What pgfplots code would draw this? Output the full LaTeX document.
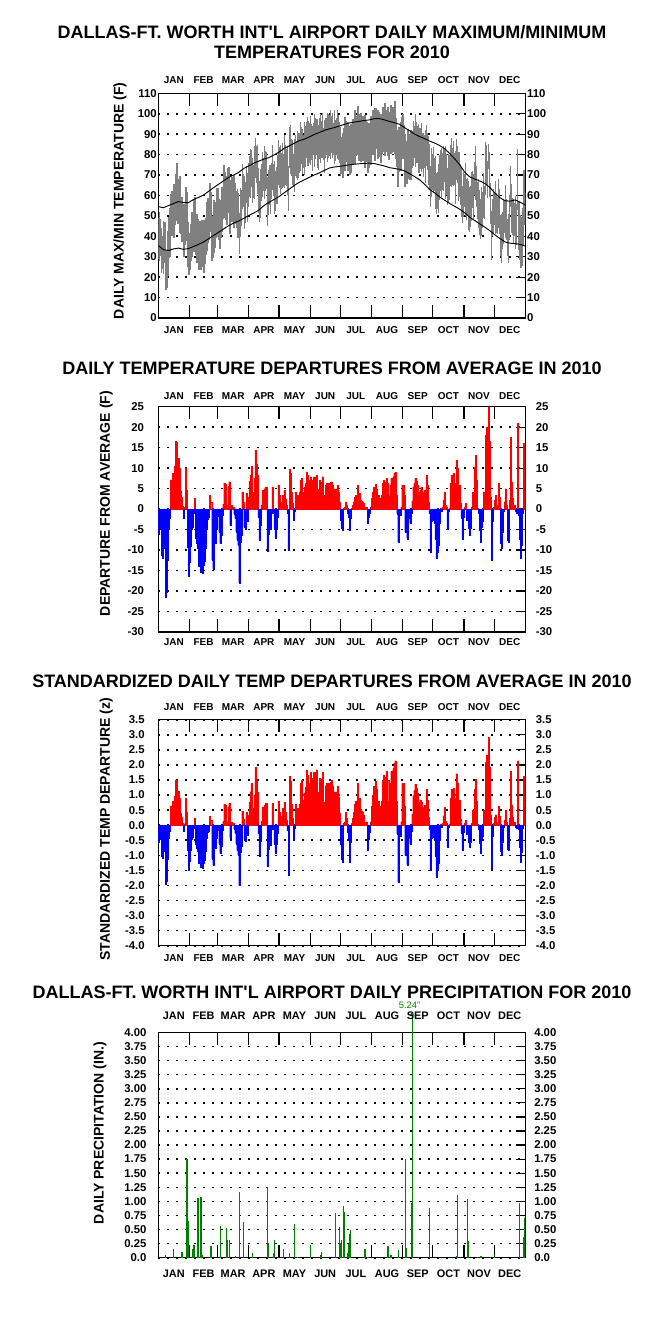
\documentclass[border=0pt]{standalone}
\usepackage{fontspec}
\setmainfont{Liberation Sans}
\usepackage{pgfplots}
\pgfplotsset{compat=1.18}
\usepackage{pgfplotstable}
\usetikzlibrary{arrows.meta}

\definecolor{bandgray}{RGB}{128,128,128}
\definecolor{pgreen}{RGB}{0,128,0}
\definecolor{dred}{RGB}{255,0,0}
\definecolor{dblue}{RGB}{0,0,255}

\newcommand\tfont{\fontsize{8.5}{8.5}\selectfont\bfseries}
\newcommand\mfont{\fontsize{7.5}{7.5}\selectfont\bfseries}
\newcommand\mfontb{\fontsize{8.2}{8.2}\selectfont\bfseries}
\newcommand\lfont{\fontsize{10.5}{10.5}\selectfont\bfseries}
\newcommand\titlefont{\fontsize{13.5}{13.5}\selectfont\bfseries}

% daily: actual max, actual min, departure (F), standardized departure (z)
\pgfplotstableread{
hi lo dep z
48.8 28.8 -6.2 -0.56
52.0 28.0 -4.8 -0.44
48.5 30.5 -5.0 -0.45
44.1 22.1 -11.2 -1.02
40.0 24.0 -12.0 -1.09
47.3 21.3 -9.5 -0.86
46.8 26.8 -7.0 -0.64
31.5 13.5 -21.4 -1.95
32.7 14.7 -20.2 -1.84
42.6 20.6 -12.4 -1.13
49.2 29.2 -4.8 -0.44
53.9 29.9 -2.3 -0.21
60.6 42.6 7.2 0.65
62.1 40.1 6.5 0.59
61.5 45.5 8.8 0.80
65.4 39.4 7.5 0.68
65.5 45.5 10.5 0.95
70.7 52.7 16.5 1.50
75.7 47.7 16.4 1.49
67.8 45.8 11.3 1.03
68.1 48.1 12.5 1.14
69.5 41.5 10.0 0.91
58.9 40.9 4.5 0.41
59.2 37.2 3.0 0.27
53.9 37.9 0.8 0.07
55.8 29.8 -2.2 -0.20
55.6 35.6 0.5 0.05
64.1 46.1 10.0 0.91
61.8 37.8 4.6 0.42
47.0 25.0 -9.2 -0.84
37.0 21.0 -16.3 -1.48
41.5 23.5 -13.0 -1.18
45.8 27.8 -9.0 -0.82
52.0 30.0 -5.0 -0.45
50.0 34.0 -4.3 -0.39
58.5 32.5 -1.0 -0.09
59.4 39.4 2.7 0.25
48.9 30.9 -7.0 -0.64
50.9 26.9 -8.2 -0.75
48.7 26.7 -9.6 -0.87
43.7 23.7 -13.8 -1.25
47.6 23.6 -12.2 -1.11
41.6 23.6 -15.4 -1.40
48.0 26.0 -11.2 -1.02
40.8 24.8 -15.7 -1.43
48.0 22.0 -13.7 -1.25
46.2 26.2 -12.8 -1.16
48.8 30.8 -9.6 -0.87
56.9 32.9 -4.8 -0.44
58.7 36.7 -2.4 -0.22
58.4 38.4 -2.0 -0.18
66.1 42.1 3.4 0.31
61.9 43.9 1.8 0.16
50.0 28.0 -12.4 -1.13
45.2 29.2 -14.6 -1.33
57.9 31.9 -7.2 -0.65
54.2 34.2 -8.2 -0.75
57.0 39.0 -4.8 -0.44
63.5 39.5 -1.6 -0.15
63.6 41.6 -0.8 -0.07
58.3 38.3 -5.5 -0.61
57.7 33.7 -8.4 -0.93
57.1 39.1 -6.3 -0.70
64.3 42.3 -1.5 -0.17
64.3 48.3 1.2 0.13
74.8 48.8 6.4 0.71
71.7 51.7 6.0 0.67
66.1 48.1 1.0 0.11
69.4 45.4 1.0 0.11
73.2 51.2 5.5 0.61
73.7 53.7 6.7 0.74
65.3 41.3 -4.0 -0.44
67.5 49.5 1.0 0.11
69.1 47.1 0.3 0.03
66.6 50.6 0.6 0.07
70.1 44.1 -1.2 -0.13
66.2 46.2 -2.3 -0.26
62.2 44.2 -5.5 -0.61
63.3 39.3 -7.6 -0.84
61.4 39.4 -8.8 -0.98
51.4 31.4 -18.0 -2.00
63.7 39.7 -8.0 -0.89
62.8 44.8 -6.3 -0.70
75.6 53.6 4.2 0.47
70.5 54.5 1.8 0.20
69.7 43.7 -4.3 -0.48
66.5 46.5 -4.8 -0.53
74.4 56.4 3.8 0.42
70.8 46.8 -3.0 -0.33
76.1 54.1 3.0 0.33
79.2 59.2 6.8 0.76
82.9 58.9 8.3 1.11
82.3 64.3 10.4 1.39
78.3 56.3 4.2 0.56
74.8 58.8 3.4 0.45
84.1 58.1 7.5 1.00
88.3 68.3 14.4 1.92
84.1 66.1 11.0 1.47
84.6 60.6 8.3 1.11
73.6 51.6 -2.0 -0.27
67.2 47.2 -7.6 -1.01
73.1 49.1 -4.0 -0.53
75.5 57.5 1.0 0.13
81.4 59.4 4.6 0.61
78.3 62.3 4.2 0.56
84.4 58.4 5.0 0.67
82.0 62.0 5.4 0.72
81.3 63.3 5.4 0.72
68.9 44.9 -10.2 -1.36
72.3 50.3 -6.0 -0.80
75.1 55.1 -2.5 -0.33
74.8 50.8 -5.0 -0.67
76.1 58.1 -1.0 -0.13
84.8 62.8 5.4 0.72
75.6 59.6 -1.0 -0.13
77.1 51.1 -4.8 -0.64
72.2 52.2 -7.0 -0.93
73.7 55.7 -4.8 -0.64
79.8 55.8 -2.0 -0.27
86.9 64.9 5.9 0.79
83.7 63.7 3.4 0.45
84.5 60.5 1.8 0.30
81.0 63.0 1.0 0.17
85.8 63.8 3.4 0.57
80.1 64.1 0.3 0.05
89.7 63.7 4.6 0.77
84.9 64.9 2.5 0.42
82.7 64.7 1.0 0.17
84.0 60.0 -1.0 -0.17
74.3 52.3 -10.0 -1.67
93.4 73.4 9.8 1.63
94.6 70.6 8.7 1.45
87.4 69.4 4.2 0.70
86.9 64.9 1.4 0.23
80.2 64.2 -2.7 -0.45
87.7 61.7 -0.5 -0.08
89.7 69.7 4.2 0.70
86.6 68.6 1.8 0.30
91.4 67.4 3.4 0.57
90.7 68.7 3.4 0.57
90.8 70.8 4.2 0.70
95.8 71.8 7.0 1.40
93.5 75.5 7.5 1.50
92.4 70.4 4.2 0.84
89.6 73.6 4.2 0.84
96.0 70.0 5.4 1.08
94.1 74.1 6.3 1.26
96.1 78.1 9.1 1.82
98.6 74.6 8.3 1.66
96.5 74.5 7.0 1.40
95.7 75.7 7.0 1.40
98.9 74.9 7.9 1.76
95.2 77.2 7.0 1.56
93.8 71.8 3.4 0.76
95.6 79.6 7.9 1.76
99.9 73.9 7.0 1.56
98.0 78.0 7.9 1.76
97.6 79.6 8.3 1.84
97.5 73.5 5.0 1.11
94.3 72.3 2.6 0.58
97.9 77.9 7.0 1.56
99.8 75.8 6.7 1.49
96.3 78.3 5.9 1.31
100.5 78.5 7.9 1.76
93.2 77.2 3.4 0.76
96.8 70.8 1.8 0.40
98.1 78.1 5.9 1.31
97.7 79.7 6.3 1.40
100.5 76.5 5.9 1.31
100.1 78.1 6.3 1.40
99.3 79.3 6.3 1.40
101.6 77.6 6.5 1.44
98.9 80.9 6.7 1.49
100.3 78.3 5.9 1.31
95.7 79.7 4.2 0.93
101.6 75.6 5.0 1.11
97.1 77.1 3.4 0.76
97.8 79.8 5.0 1.11
101.8 77.8 5.9 1.31
99.2 77.2 4.2 0.93
95.9 75.9 1.8 0.40
93.5 69.5 -2.7 -0.64
88.7 70.7 -4.7 -1.12
90.4 68.4 -5.1 -1.21
92.9 76.9 0.3 0.07
98.2 72.2 0.5 0.12
96.6 76.6 1.8 0.43
94.9 76.9 1.0 0.24
96.0 72.0 -1.0 -0.24
94.2 72.2 -2.0 -0.48
90.2 70.2 -5.1 -1.21
95.0 71.0 -2.3 -0.55
94.7 76.7 0.3 0.07
97.5 75.5 1.0 0.24
95.4 79.4 1.8 0.43
101.6 75.6 3.0 0.71
99.1 79.1 3.4 0.81
98.1 80.1 3.4 0.81
103.7 79.7 5.9 1.40
98.7 76.7 1.8 0.43
99.7 79.7 3.8 0.90
100.2 76.2 2.2 0.52
97.0 79.0 2.0 0.48
98.9 76.9 1.8 0.43
95.6 79.6 1.4 0.33
99.6 73.6 0.4 0.10
96.5 76.5 0.2 0.05
95.8 77.8 0.5 0.12
94.8 70.8 -3.5 -0.83
95.5 73.5 -1.9 -0.45
95.4 75.4 -1.0 -0.24
99.0 75.0 0.5 0.12
98.1 80.1 2.6 0.62
101.7 79.7 4.2 1.00
100.0 84.0 5.4 1.29
103.0 77.0 3.4 0.81
102.7 82.7 6.1 1.45
100.5 82.5 5.0 1.19
101.8 77.8 3.4 0.81
100.8 78.8 3.4 0.81
98.9 78.9 2.6 0.62
100.0 76.0 1.8 0.43
98.5 80.5 3.4 0.81
103.3 81.3 6.3 1.50
100.8 84.8 7.0 1.67
105.4 79.4 6.7 1.60
101.5 81.5 5.9 1.40
101.9 83.9 7.5 1.79
103.5 79.5 6.3 1.50
99.5 77.5 3.4 0.81
100.8 80.8 5.9 1.40
104.3 80.3 7.5 1.79
98.7 80.7 5.0 1.19
103.5 81.5 7.9 1.88
101.2 85.2 8.7 2.07
106.4 80.4 9.0 2.14
97.7 77.7 3.4 0.81
92.0 74.0 -1.2 -0.29
88.1 64.1 -8.0 -1.90
93.7 71.7 -1.2 -0.29
92.3 72.3 -1.5 -0.36
96.1 72.1 0.5 0.12
98.2 80.2 5.9 1.40
100.0 78.0 5.9 1.40
94.3 78.3 3.4 0.62
90.1 64.1 -5.5 -1.00
86.8 66.8 -5.5 -1.00
83.8 65.8 -7.2 -1.31
92.7 68.7 -1.0 -0.18
90.1 68.1 -2.3 -0.42
87.6 67.6 -3.5 -0.64
91.8 67.8 -1.0 -0.18
91.5 73.5 2.0 0.36
96.6 74.6 5.4 0.98
94.2 78.2 6.3 1.15
100.1 74.1 7.5 1.36
96.1 76.1 6.8 1.24
93.9 75.9 5.9 1.07
95.0 71.0 4.2 0.76
92.9 70.9 3.4 0.62
92.8 72.8 4.6 0.84
95.3 71.3 5.4 0.77
90.8 72.8 4.2 0.60
90.8 68.8 2.6 0.37
89.5 73.5 4.6 0.66
92.2 66.2 2.6 0.37
94.5 74.5 8.3 1.19
90.7 72.7 5.9 0.84
89.3 65.3 1.8 0.26
85.1 63.1 -1.0 -0.14
74.3 54.3 -10.4 -1.49
83.4 59.4 -3.0 -0.43
80.5 62.5 -2.7 -0.39
83.9 61.9 -1.0 -0.14
78.2 62.2 -3.5 -0.50
79.2 53.2 -7.2 -1.03
71.1 51.1 -12.0 -1.71
71.4 53.4 -10.4 -1.49
75.6 51.6 -8.8 -1.26
79.6 57.6 -3.5 -0.50
82.1 62.1 0.3 0.04
83.0 59.0 -0.5 -0.07
80.7 62.7 0.5 0.07
84.0 62.0 2.2 0.31
82.7 66.7 4.2 0.60
84.2 58.2 1.0 0.14
80.3 60.3 0.5 0.07
73.4 55.4 -5.0 -0.71
80.5 56.5 -0.5 -0.07
79.9 57.9 0.3 0.04
84.5 64.5 6.3 0.90
88.1 64.1 8.3 1.19
83.1 65.1 6.7 0.96
86.7 64.7 8.7 1.24
80.9 64.9 6.3 0.90
81.8 55.8 2.6 0.37
87.8 67.8 12.0 1.71
84.2 66.2 9.9 1.41
81.5 57.5 4.6 0.66
81.3 59.3 5.9 0.84
75.4 55.4 1.4 0.20
73.2 49.2 -2.3 -0.27
64.7 46.7 -7.2 -0.84
71.4 49.4 -2.0 -0.23
70.3 54.3 0.5 0.06
75.7 49.7 1.4 0.16
68.2 48.2 -2.7 -0.31
68.4 50.4 -1.0 -0.12
67.3 43.3 -4.7 -0.55
64.2 42.2 -6.3 -0.73
64.4 44.4 -4.7 -0.55
71.3 47.3 0.5 0.06
71.8 53.8 4.2 0.49
70.3 48.3 1.0 0.12
76.4 60.4 10.3 1.20
84.0 58.0 13.2 1.53
74.5 54.5 7.0 0.81
66.6 48.6 0.3 0.03
68.0 44.0 -1.0 -0.12
62.7 40.7 -5.1 -0.59
58.5 38.5 -8.0 -0.93
63.9 39.9 -4.3 -0.50
61.9 43.9 -3.0 -0.35
70.9 48.9 4.2 0.49
64.4 48.4 1.0 0.12
86.1 60.1 18.0 2.09
84.7 64.7 20.0 2.33
76.8 58.8 13.5 1.57
85.0 73.0 25.0 2.91
81.1 59.1 16.5 1.92
66.2 46.2 3.0 0.35
52.3 28.3 -12.4 -1.44
58.2 40.2 -3.0 -0.35
63.3 41.3 0.5 0.06
61.5 45.5 2.2 0.26
67.2 41.2 3.4 0.35
61.4 41.4 1.0 0.10
59.3 41.3 0.3 0.03
67.9 43.9 6.3 0.64
63.2 41.2 3.0 0.31
50.4 30.4 -8.4 -0.86
50.9 26.9 -9.6 -0.98
51.7 33.7 -5.5 -0.56
58.4 36.4 -0.5 -0.05
57.4 41.4 1.8 0.18
65.3 39.3 5.0 0.51
58.2 38.2 1.0 0.10
48.5 30.5 -7.6 -0.78
51.1 27.1 -8.0 -0.82
60.2 38.2 2.2 0.22
74.5 54.5 17.6 1.80
65.6 41.6 6.7 0.68
58.6 40.6 2.6 0.27
58.5 36.5 0.5 0.05
56.1 40.1 1.0 0.10
59.6 33.6 -0.5 -0.05
55.9 35.9 -1.0 -0.10
82.8 52.8 21.0 2.14
57.2 33.2 -1.4 -0.14
50.3 28.3 -7.2 -0.73
44.3 24.3 -12.0 -1.22
49.3 25.3 -8.8 -0.90
53.9 35.9 -1.0 -0.10
72.6 50.6 16.0 1.63
61.3 45.3 7.9 0.81
}\daily

\pgfplotstableread{
day nmax nmin
0 54.5 35.5
5 54.0 33.5
10 55.0 33.0
15 56.0 33.8
20 57.0 34.2
25 56.5 33.6
30 56.5 34.0
35 58.0 35.0
40 59.0 36.0
45 60.2 37.2
50 62.0 38.8
55 63.8 40.4
60 65.5 42.0
65 67.2 43.6
70 68.8 45.2
75 70.0 46.5
80 71.3 47.5
85 73.2 48.8
90 74.5 50.2
95 75.8 51.4
100 76.8 52.8
105 77.8 55.0
110 78.5 56.6
115 79.8 58.0
120 81.2 59.4
125 83.0 61.2
130 84.2 63.0
135 85.5 64.8
140 86.8 66.4
145 87.5 67.6
150 88.6 68.8
155 89.8 70.0
160 90.8 71.0
165 91.8 72.2
170 92.6 73.4
175 93.2 73.9
180 94.0 74.2
185 94.8 74.6
190 95.5 75.0
195 95.9 75.3
200 96.3 75.5
205 96.7 75.7
210 97.0 75.8
215 97.6 75.6
220 97.6 75.0
225 97.0 74.4
230 96.2 73.6
235 95.6 73.2
240 94.8 72.8
245 93.2 72.0
250 91.6 70.6
255 90.0 69.2
260 88.8 67.6
265 87.8 65.4
270 86.6 62.8
275 85.6 61.2
280 84.4 59.2
285 82.8 57.6
290 80.4 56.0
295 77.8 54.6
300 74.8 53.2
305 71.2 51.4
310 69.0 49.2
315 68.0 47.6
320 67.0 46.0
325 65.8 44.4
330 63.8 42.6
335 61.0 40.6
340 58.8 38.8
345 57.4 37.2
350 57.2 36.6
355 57.8 36.4
360 56.6 36.0
365 55.4 35.2
}\normals

\pgfplotstableread{
x p
7.5 0.05
15.5 0.16
23.5 0.10
28.5 1.75
29.5 0.66
34.5 0.15
35.5 0.23
39.5 1.06
42.5 1.08
43.5 0.05
52.5 0.21
61.5 0.56
67.5 0.53
68.5 0.31
70.5 0.31
76.5 0.03
80.5 1.17
84.5 0.64
93.5 0.09
108.5 1.26
109.5 0.27
114.5 0.09
115.5 0.31
124.5 0.16
130.5 0.09
135.5 0.60
138.5 0.02
151.5 0.23
161.5 0.05
162.5 0.11
176.5 0.80
180.5 0.55
181.5 0.27
182.5 0.31
184.5 0.92
185.5 0.82
188.5 0.08
189.5 0.25
190.5 0.43
191.5 0.50
205.5 0.16
208.5 0.02
228.5 0.21
231.5 0.05
238.5 0.14
245.5 1.76
246.5 0.18
251.5 0.98
258.5 0.02
269.5 0.88
296.5 0.03
297.5 1.11
307.5 1.04
308.5 0.30
317.5 0.02
320.5 0.03
321.5 0.03
330.5 0.02
334.5 0.05
359.5 0.98
363.5 0.36
364.5 0.71
}\precip

\pgfplotsset{
  base/.style={
    scale only axis, width=275.3pt, xmin=0, xmax=365,
    axis line style={line width=0.9pt},
    tick align=inside,
    xtick={15.5,45,74.5,105,135.5,166,196.5,227.5,258,288.5,319,349.5},
    xticklabels={JAN,FEB,MAR,APR,MAY,JUN,JUL,AUG,SEP,OCT,NOV,DEC},
    minor xtick={31,59,90,120,151,181,212,243,273,304,334},
    major x tick style={draw=none},
    minor x tick style={line width=0.9pt,black},
    major y tick style={line width=0.9pt,black},
    minor tick length=9.5pt,
    major tick length=7pt,
    xtick pos=both,
    ytick pos=right,
    xticklabel pos=left,
    yticklabel pos=left,
    ymajorgrids,
    major grid style={black, line width=1.2pt, dash pattern=on 1.2pt off 5.55pt},
    xticklabel style={inner sep=0pt, anchor=north},
    yticklabel style={inner sep=0pt, font=\tfont, anchor=east},
    ylabel style={font=\lfont, anchor=center},
  },
  over/.style={
    axis line style={draw=none},
    major tick length=0pt, minor tick length=0pt,
    ymajorgrids=false,
    xticklabel pos=right,
    yticklabel pos=right,
    xticklabel style={anchor=south},
    yticklabel style={anchor=west},
  },
  p1/.style={at={(118.7pt,762pt)}, anchor=south west, height=168.5pt,
    ymin=0, ymax=110, ytick={0,10,...,110},
    yticklabels={0,10,20,30,40,50,60,70,80,90,100,110}},
  p2/.style={at={(118.7pt,526.5pt)}, anchor=south west, height=169pt,
    ymin=-30, ymax=25, ytick={-30,-25,...,25},
    yticklabels={-30,-25,-20,-15,-10,-5,0,5,10,15,20,25}},
  p3/.style={at={(118.7pt,291.2pt)}, anchor=south west, height=169.5pt,
    ymin=-4, ymax=3.5,
    ytick={-4,-3.5,-3,-2.5,-2,-1.5,-1,-0.5,0,0.5,1,1.5,2,2.5,3,3.5},
    yticklabels={-4.0,-3.5,-3.0,-2.5,-2.0,-1.5,-1.0,-0.5,0.0,0.5,1.0,1.5,2.0,2.5,3.0,3.5}},
  p4/.style={at={(118.7pt,57.2pt)}, anchor=south west, height=169pt,
    ymin=0, ymax=4,
    ytick={0,0.25,0.5,0.75,1,1.25,1.5,1.75,2,2.25,2.5,2.75,3,3.25,3.5,3.75,4},
    yticklabels={0.0,0.25,0.50,0.75,1.00,1.25,1.50,1.75,2.00,2.25,2.50,2.75,3.00,3.25,3.50,3.75,4.00}},
}

\begin{document}
\begin{tikzpicture}
\useasboundingbox (0,0) rectangle (493.5pt,1000.5pt);

% titles
\node[font=\titlefont, anchor=base] at (249pt,971.7pt) {DALLAS-FT. WORTH INT\textquotesingle L AIRPORT DAILY MAXIMUM/MINIMUM};
\node[font=\titlefont, anchor=base] at (249pt,956.7pt) {TEMPERATURES FOR 2010};
\node[font=\titlefont, anchor=base] at (249pt,719.7pt) {DAILY TEMPERATURE DEPARTURES FROM AVERAGE IN 2010};
\node[font=\titlefont, anchor=base] at (249pt,484.9pt) {STANDARDIZED DAILY TEMP DEPARTURES FROM AVERAGE IN 2010};
\node[font=\titlefont, anchor=base] at (249pt,251.7pt) {DALLAS-FT. WORTH INT\textquotesingle L AIRPORT DAILY PRECIPITATION FOR 2010};

% ---------- panel 1 ----------
\begin{axis}[base, p1,
  xticklabel style={font=\mfont, yshift=-6.5pt},
  yticklabel style={xshift=-1pt},
  ylabel={DAILY MAX/MIN TEMPERATURE (F)},
  ylabel style={at={(axis description cs:-0.1045,0.5216)}}]
% daily max-min range: one vertical bar per day from min to max
\addplot[draw=none, mark=none,
  error bars/.cd, y dir=both, y explicit,
  error mark=none, error bar style={draw=bandgray, line width=1.05pt}]
  table[x expr=\coordindex+0.5, y expr=(\thisrow{hi}+\thisrow{lo})/2,
        y error expr=(\thisrow{hi}-\thisrow{lo})/2]{\daily};
\addplot[black, line width=0.7pt] table[x=day, y=nmax]{\normals};
\addplot[black, line width=0.7pt] table[x=day, y=nmin]{\normals};
\end{axis}
\begin{axis}[base, p1, over,
  xticklabel style={font=\mfont, yshift=7pt},
  yticklabel style={xshift=1.2pt}]
\addplot[draw=none] table[x=day, y=nmax]{\normals};
\end{axis}

% ---------- panel 2 ----------
\begin{axis}[base, p2,
  xticklabel style={font=\mfont, yshift=-4.7pt},
  yticklabel style={xshift=-10.5pt},
  ylabel={DEPARTURE FROM AVERAGE (F)},
  ylabel style={at={(axis description cs:-0.1418,0.570)}}]
\addplot[ybar, bar width=1, bar shift=0pt, fill=dred, draw=dred, line width=0.1pt,
  restrict y to domain=0:100] table[x expr=\coordindex+0.5, y=dep]{\daily};
\addplot[ybar, bar width=1, bar shift=0pt, fill=dblue, draw=dblue, line width=0.1pt,
  restrict y to domain=-100:0] table[x expr=\coordindex+0.5, y=dep]{\daily};
\end{axis}
\begin{axis}[base, p2, over,
  xticklabel style={font=\mfont, yshift=5pt},
  yticklabel style={xshift=7.7pt}]
\addplot[draw=none] table[x expr=\coordindex+0.5, y=dep]{\daily};
\end{axis}

% ---------- panel 3 ----------
\begin{axis}[base, p3,
  xticklabel style={font=\mfont, yshift=-6.2pt},
  yticklabel style={xshift=-10pt},
  ylabel={STANDARDIZED TEMP DEPARTURE (z)},
  ylabel style={at={(axis description cs:-0.142,0.515)}}]
\addplot[ybar, bar width=1, bar shift=0pt, fill=dred, draw=dred, line width=0.1pt,
  restrict y to domain=0:100] table[x expr=\coordindex+0.5, y=z]{\daily};
\addplot[ybar, bar width=1, bar shift=0pt, fill=dblue, draw=dblue, line width=0.1pt,
  restrict y to domain=-100:0] table[x expr=\coordindex+0.5, y=z]{\daily};
\end{axis}
\begin{axis}[base, p3, over,
  xticklabel style={font=\mfont, yshift=7pt},
  yticklabel style={xshift=7.7pt}]
\addplot[draw=none] table[x expr=\coordindex+0.5, y=z]{\daily};
\end{axis}

% ---------- panel 4 ----------
\begin{axis}[base, p4, clip=false,
  xticklabel style={font=\mfontb, yshift=-9.2pt},
  yticklabel style={xshift=-8.7pt},
  ylabel={DAILY PRECIPITATION (IN.)},
  ylabel style={at={(axis description cs:-0.159,0.553)}}]
\addplot[ycomb, draw=pgreen, line width=0.9pt] table[x=x, y=p]{\precip};
\addplot[ycomb, draw=pgreen, line width=0.9pt, -{Stealth[length=3.5pt,width=3.5pt]},
  nodes near coords={5.24"},
  every node near coord/.style={font=\fontsize{7}{7}\selectfont, text=pgreen, anchor=south, inner sep=0.5pt, xshift=-2pt, yshift=1.5pt}]
  coordinates {(252.5,4.37)};
\end{axis}
\begin{axis}[base, p4, over,
  xticklabel style={font=\mfontb, yshift=9.2pt},
  yticklabel style={xshift=6.5pt}]
\addplot[draw=none] table[x=x, y=p]{\precip};
\end{axis}

\end{tikzpicture}
\end{document}
